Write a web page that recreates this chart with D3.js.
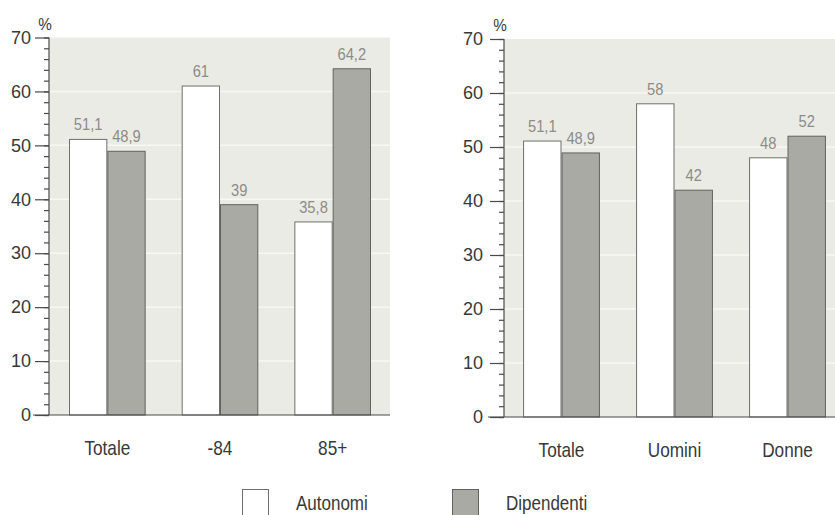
<!DOCTYPE html>
<html>
<head>
<meta charset="utf-8">
<script src="https://cdn.jsdelivr.net/npm/d3@7"></script>
<style>
  html, body { margin: 0; padding: 0; background: #ffffff; }
  svg { display: block; }
  text { font-family: "Liberation Sans", Arial, sans-serif; }
</style>
</head>
<body>
<svg id="chart" width="835" height="515"></svg>
<script>
// Share of autonomi / dipendenti, by age and by sex
const seriesNames = ["Autonomi", "Dipendenti"];

const ageCategories = ["Totale", "-84", "85+"];
const ageAutonomi = [51.1, 61, 35.8];
const ageDipendenti = [48.9, 39, 64.2];

const sexCategories = ["Totale", "Uomini", "Donne"];
const sexAutonomi = [51.1, 58, 48];
const sexDipendenti = [48.9, 42, 52];

const yMax = 70;
const yMajorTicks = [0, 10, 20, 30, 40, 50, 60, 70];
const yMinorTicks = d3.range(0, 71, 2);
const unitLabel = "%";

const colors = { Autonomi: "#ffffff", Dipendenti: "#a9aaa3" };
const strokes = { Autonomi: "#6f6f6b", Dipendenti: "#626260" };
const plotBg = "#ebebe6";
const axisColor = "#4a4a4a";
const textColor = "#383838";
const valueColor = "#8c8c88";

const svg = d3.select("#chart");

const fmt = v => String(v).replace(".", ",");

// condensed look: regular sans squeezed horizontally around its anchor
function narrowText(sel, xFn, yFn, k) {
  return sel.attr("x", 0).attr("y", 0)
    .attr("transform", (d, i) => `translate(${xFn(d, i)},${yFn(d, i)}) scale(${k},1)`);
}

function drawPanel(cfg) {
  const g = svg.append("g");
  const y = d3.scaleLinear().domain([0, yMax]).range([cfg.y0, cfg.y70]);
  const x = d3.scaleBand().domain(cfg.categories).range(cfg.xRange)
    .paddingInner(0.32).paddingOuter(0.16);
  const xs = d3.scaleBand().domain(seriesNames).range([0, x.bandwidth()]);

  // plot background
  g.append("rect")
    .attr("x", cfg.axisX).attr("y", y(yMax))
    .attr("width", cfg.bgRight - cfg.axisX).attr("height", y(0) - y(yMax))
    .attr("fill", plotBg);

  // faint light gridlines
  g.append("g").selectAll("line").data(yMajorTicks.filter(t => t > 0 && t < yMax))
    .join("line")
    .attr("x1", cfg.axisX).attr("x2", cfg.bgRight)
    .attr("y1", d => y(d)).attr("y2", d => y(d))
    .attr("stroke", "#f7f7f4").attr("stroke-width", 1.5);

  // bars
  const rows = cfg.categories.map((c, i) => ({
    cat: c,
    vals: [
      { key: "Autonomi", v: cfg.autonomi[i] },
      { key: "Dipendenti", v: cfg.dipendenti[i] }
    ]
  }));
  const groups = g.append("g").selectAll("g").data(rows).join("g")
    .attr("transform", d => `translate(${x(d.cat)},0)`);

  groups.selectAll("rect").data(d => d.vals).join("rect")
    .attr("x", d => xs(d.key) + 0.5)
    .attr("y", d => y(d.v))
    .attr("width", xs.bandwidth() - 1)
    .attr("height", d => y(0) - y(d.v))
    .attr("fill", d => colors[d.key])
    .attr("stroke", d => strokes[d.key])
    .attr("stroke-width", 1);

  groups.selectAll("text").data(d => d.vals).join("text")
    .call(narrowText, d => xs(d.key) + xs.bandwidth() / 2, d => y(d.v) - 9, 0.92)
    .attr("text-anchor", "middle")
    .attr("font-size", 16)
    .attr("fill", valueColor)
    .text(d => fmt(d.v));

  // y axis with major and minor ticks
  const yAxis = g.append("g").attr("transform", `translate(${cfg.axisX},0)`);
  yAxis.call(d3.axisLeft(y).tickValues(yMinorTicks).tickSize(5).tickFormat(""))
    .call(a => a.select(".domain").remove());
  yAxis.append("g")
    .call(d3.axisLeft(y).tickValues(yMajorTicks).tickSize(14).tickPadding(cfg.labelPad).tickFormat(d3.format("d")))
    .call(a => a.select(".domain").remove());
  yAxis.selectAll("line").attr("stroke", axisColor).attr("stroke-width", 1.2);
  yAxis.selectAll("text")
    .attr("font-size", 18).attr("fill", textColor);
  yAxis.append("line")
    .attr("x1", 0).attr("x2", 0).attr("y1", y(yMax)).attr("y2", y(0))
    .attr("stroke", axisColor).attr("stroke-width", 1.2);

  // baseline
  g.append("line")
    .attr("x1", cfg.axisX - 16).attr("x2", cfg.bgRight)
    .attr("y1", y(0)).attr("y2", y(0))
    .attr("stroke", axisColor).attr("stroke-width", 1.2);

  // unit
  g.append("text")
    .call(narrowText, () => cfg.axisX - 4, () => y(yMax) - 8, 0.9)
    .attr("text-anchor", "middle")
    .attr("font-size", 17).attr("fill", textColor)
    .text(unitLabel);

  // category labels
  g.append("g").selectAll("text").data(cfg.categories).join("text")
    .call(narrowText, d => x(d) + x.bandwidth() / 2, () => y(0) + 40, 0.86)
    .attr("text-anchor", "middle")
    .attr("font-size", 20).attr("fill", textColor)
    .text(d => d);
}

drawPanel({
  categories: ageCategories, autonomi: ageAutonomi, dipendenti: ageDipendenti,
  axisX: 49, bgRight: 390, xRange: [51, 389], y0: 415, y70: 37.5, labelPad: 4
});

drawPanel({
  categories: sexCategories, autonomi: sexAutonomi, dipendenti: sexDipendenti,
  axisX: 504, bgRight: 845, xRange: [505, 844], y0: 417, y70: 39, labelPad: 7
});

// legend
const legend = svg.append("g");
const legendX = d3.scalePoint().domain(seriesNames).range([242, 452]);
const items = legend.selectAll("g").data(seriesNames).join("g")
  .attr("transform", d => `translate(${legendX(d)},489)`);
items.append("rect")
  .attr("x", 0.5).attr("y", 0.5).attr("width", 26).attr("height", 30)
  .attr("fill", d => colors[d]).attr("stroke", d => strokes[d]);
items.append("text")
  .call(narrowText, () => 54, () => 21, 0.85)
  .attr("font-size", 20).attr("fill", textColor)
  .text(d => d);
</script>
</body>
</html>
